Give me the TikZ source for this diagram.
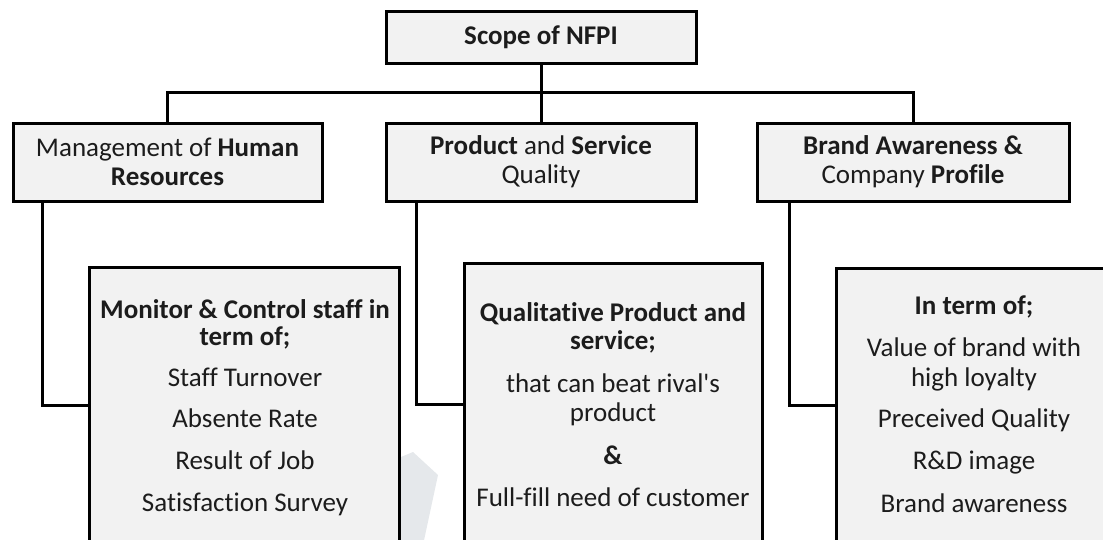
\documentclass[tikz,border=0pt]{standalone}
\usepackage{fontspec}
\setmainfont{Carlito}[Ligatures={NoCommon}]
\definecolor{boxfill}{RGB}{242,242,242}
\definecolor{ink}{RGB}{28,28,28}
\definecolor{faint}{RGB}{229,232,235}
\begin{document}
\begin{tikzpicture}[x=1pt,y=-1pt,
  box/.style={draw=black, line width=3pt, fill=boxfill, inner sep=0pt,
    text=ink, align=center, font=\fontsize{27}{29}\selectfont},
  wire/.style={draw=black, line width=3pt},
  txt/.style={anchor=base, text=ink, inner sep=0pt, font=\fontsize{27}{29}\selectfont}]
\useasboundingbox (0,0) rectangle (1103,539);
\clip (0,0) rectangle (1103,539);

% faint mark between the lower boxes
\fill[faint] (401,457) -- (413,452) -- (438,475) -- (423,545) -- (401,545) -- cycle;

% top and second level
\node[box, minimum width=310pt, minimum height=52pt] (top) at (541,37) {\textbf{Scope of NFPI}};
\node[box, minimum width=309pt, minimum height=78pt] (hr) at (167.5,162)
  {Management of \textbf{Human}\\\textbf{Resources}};
\node[box, minimum width=310pt, minimum height=78pt] (pq) at (541,162)
  {\textbf{Product} and \textbf{Service}\\Quality};
\node[box, minimum width=312pt, minimum height=78pt] (br) at (913,162)
  {\textbf{Brand Awareness \&}\\Company \textbf{Profile}};

\coordinate (bus) at (541,92);
\draw[wire] (top.south) -- (pq.north);
\draw[wire] (hr.north) |- (bus) -| (br.north);

% third level boxes
\node[box, minimum width=310pt, minimum height=300pt, anchor=north] (hrbox) at (244,266) {};
\node[box, minimum width=298pt, minimum height=300pt, anchor=north] (pqbox) at (613,262) {};
\node[box, minimum width=290pt, minimum height=300pt, anchor=north west] (brbox) at (835,267) {};

\draw[wire] ([xshift=31pt]hr.south west) |- (hrbox.west |- 0,405);
\draw[wire] ([xshift=32pt]pq.south west) |- (pqbox.west |- 0,404);
\draw[wire] ([xshift=34pt]br.south west) |- (brbox.west |- 0,405);

% text of the third level
\node[txt] (hr1) at (245,318) {\textbf{Monitor \& Control staff in}};
\node[txt] (hr2) at (245,345) {\textbf{term of;}};
\node[txt] (hr3) at (245,386) {Staff Turnover};
\node[txt] (hr4) at (245,427) {Absente Rate};
\node[txt] (hr5) at (245,469) {Result of Job};
\node[txt] (hr6) at (245,511) {Satisfaction Survey};

\node[txt] (pq1) at (613,321) {\textbf{Qualitative Product and}};
\node[txt] (pq2) at (613,349) {\textbf{service;}};
\node[txt] (pq3) at (613,392) {that can beat rival\textquotesingle s};
\node[txt] (pq4) at (613,421) {product};
\node[txt] (pq5) at (613,464) {\textbf{\&}};
\node[txt] (pq6) at (613,506) {Full-fill need of customer};

\node[txt] (br1) at (974,314) {\textbf{In term of;}};
\node[txt] (br2) at (974,356) {Value of brand with};
\node[txt] (br3) at (974,386) {high loyalty};
\node[txt] (br4) at (974,427) {Preceived Quality};
\node[txt] (br5) at (974,469) {R\&D image};
\node[txt] (br6) at (974,512) {Brand awareness};
\end{tikzpicture}
\end{document}
